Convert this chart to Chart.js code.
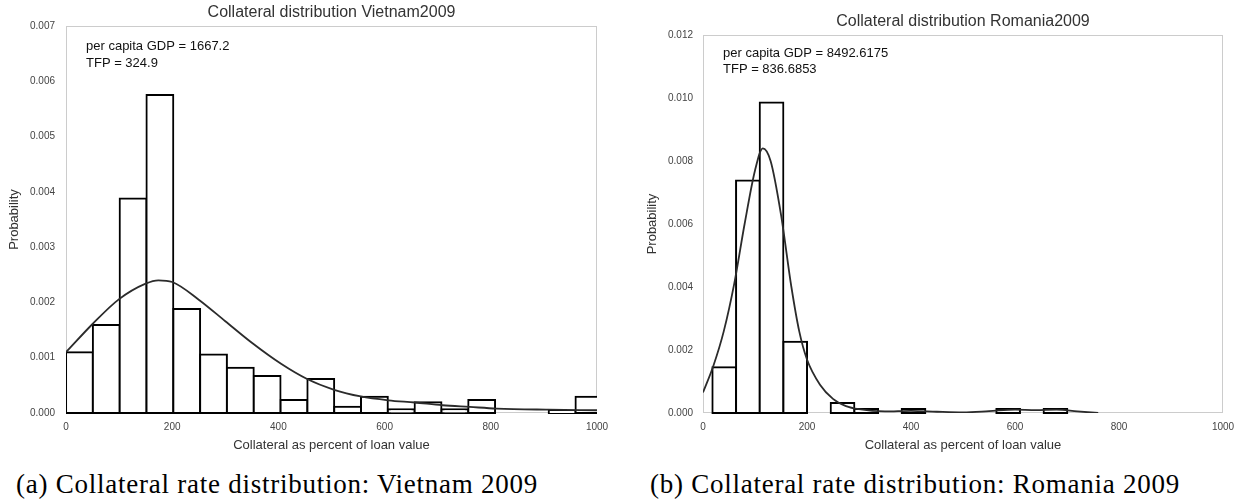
<!DOCTYPE html>
<html>
<head>
<meta charset="utf-8">
<script src="https://cdn.jsdelivr.net/npm/chart.js@4.4.1/dist/chart.umd.min.js"></script>
<style>
    html, body { margin: 0; padding: 0; background: #ffffff; }
    body { width: 1243px; height: 501px; position: relative; overflow: hidden; }
    .panel { position: absolute; top: 0; height: 460px; }
    #vietnamPanel { left: 0; width: 620px; }
    #romaniaPanel { left: 638px; width: 605px; }
    .caption {
        position: absolute;
        top: 469px;
        line-height: 30px;
        font-family: "Liberation Serif", "Times New Roman", serif;
        font-size: 27px;
        letter-spacing: 0.75px;
        color: #000;
        white-space: nowrap;
        transform: translateX(-50%);
    }
</style>
</head>
<body>
<div class="panel" id="vietnamPanel"><canvas id="vietnamChart" width="620" height="460"></canvas></div>
<div class="panel" id="romaniaPanel"><canvas id="romaniaChart" width="605" height="460"></canvas></div>
<div class="caption" style="left: 277px;">(a) Collateral rate distribution: Vietnam 2009</div>
<div class="caption" style="left: 915px;">(b) Collateral rate distribution: Romania 2009</div>

<script>
// histogram bins (bin centres) and bar heights
const vietnam_bin_centers = [25.3, 75.8, 126.3, 176.8, 227.3, 277.8, 328.3, 378.8, 429.3, 479.8,
                             530.3, 580.8, 631.3, 681.8, 732.3, 782.8, 833.3, 883.8, 934.3, 984.8];
const vietnam_bin_heights = [0.00110, 0.00159, 0.00388, 0.00575, 0.00188, 0.00106, 0.00082, 0.00067, 0.000235, 0.000615,
                             0.000115, 0.000295, 0.000067, 0.000193, 0.000067, 0.000235, 0, 0, 0.00004, 0.000295];

// fitted density curve
const vietnam_curve_x = [0, 50, 100, 150, 174, 200, 250, 300, 350, 405, 455, 505, 555, 607, 657, 709, 760, 811, 908, 1000];
const vietnam_curve_y = [0.0011, 0.00161, 0.00206, 0.00234, 0.0024, 0.00237, 0.00205, 0.00166, 0.00127, 0.00089,
                         0.00061, 0.00042, 0.0003, 0.00023, 0.00019, 0.00014, 0.00011, 0.00008, 0.00006, 0.00005];

const romania_bin_centers = [40.8, 86.3, 131.8, 177.3, 222.8, 268.3, 313.8, 359.3, 404.8, 450.3,
                             495.8, 541.3, 586.8, 632.3, 677.8];
const romania_bin_heights = [0.00145, 0.00738, 0.00986, 0.00226, 0, 0.00032, 0.00013, 0, 0.00013, 0,
                             0, 0, 0.00013, 0, 0.00013];

const romania_curve_x = [0, 20, 40, 60, 80, 100, 115, 130, 150, 170, 185, 200, 225, 250, 275, 300, 350,
                         400, 450, 500, 550, 600, 640, 680, 720, 760];
const romania_curve_y = [0.00065, 0.0015, 0.0026, 0.0041, 0.0060, 0.0077, 0.0084, 0.0080, 0.0063, 0.0040,
                         0.0026, 0.0017, 0.0009, 0.00045, 0.00022, 0.00012, 0.00005, 0.00007, 0.00004, 0.00002,
                         0.00006, 0.00011, 0.00009, 0.00011, 0.00005, 0];

const x_ticks = [0, 200, 400, 600, 800, 1000];
const vietnam_notes = ["per capita GDP = 1667.2", "TFP = 324.9"];
const romania_notes = ["per capita GDP = 8492.6175", "TFP = 836.6853"];

Chart.defaults.font.family = "'Liberation Sans', Arial, sans-serif";

// light grey box round the plot area + the two text lines in the top left corner
const frame_plugin = {
    id: "frame",
    beforeDatasetsDraw(chart) {
        const { ctx, chartArea: a } = chart;
        ctx.save();
        ctx.strokeStyle = "#cccccc";
        ctx.lineWidth = 1;
        ctx.strokeRect(a.left + 0.5, a.top + 0.5, a.width - 1, a.height - 1);
        ctx.restore();
    },
    afterDraw(chart, args, opts) {
        const { ctx, chartArea: a } = chart;
        ctx.save();
        ctx.fillStyle = "#111111";
        ctx.font = "13px 'Liberation Sans', Arial, sans-serif";
        ctx.textBaseline = "middle";
        opts.lines.forEach((line, i) => {
            ctx.fillText(line, a.left + opts.dx, a.top + opts.dy + i * 16.5);
        });
        ctx.restore();
    }
};

function create_hist_chart(canvasId, cfg) {
    return new Chart(document.getElementById(canvasId), {
        type: "bar",
        data: {
            datasets: [{
                type: "line",
                data: cfg.curveX.map((x, i) => ({ x: x, y: cfg.curveY[i] })),
                borderColor: "#2b2b2b",
                borderWidth: 1.8,
                pointRadius: 0,
                cubicInterpolationMode: "monotone",
                fill: false,
                order: 0
            }, {
                type: "bar",
                data: cfg.binX.map((x, i) => ({ x: x, y: cfg.binY[i] })),
                backgroundColor: "#ffffff",
                borderColor: "#000000",
                borderWidth: 2,
                borderSkipped: false,
                inflateAmount: 1,
                barPercentage: 1,
                categoryPercentage: 1,
                clip: { left: 0, top: 0, right: 0, bottom: 2 },
                order: 1
            }]
        },
        options: {
            responsive: false,
            animation: false,
            events: [],
            layout: {
                padding: { top: cfg.padTop, left: 0, right: cfg.padRight, bottom: 0 }
            },
            scales: {
                x: {
                    type: "linear",
                    offset: false,
                    min: 0,
                    max: 1000,
                    afterBuildTicks: scale => { scale.ticks = x_ticks.map(v => ({ value: v })); },
                    afterFit: scale => { scale.height = 47; },
                    grid: { display: false, drawTicks: false, offset: false },
                    border: { display: false },
                    ticks: {
                        padding: 8,
                        color: "#444444",
                        font: { size: 10 },
                        callback: v => String(v)
                    },
                    title: {
                        display: true,
                        text: "Collateral as percent of loan value",
                        color: "#333333",
                        font: { size: 13 },
                        padding: { top: 0, bottom: 7 }
                    }
                },
                y: {
                    min: 0,
                    max: cfg.yMax,
                    afterFit: scale => { scale.width = cfg.yWidth; },
                    grid: { display: false, drawTicks: false },
                    border: { display: false },
                    ticks: {
                        stepSize: cfg.yStep,
                        padding: cfg.tickPad,
                        color: "#444444",
                        font: { size: 10 },
                        callback: v => v.toFixed(3)
                    },
                    title: {
                        display: true,
                        text: "Probability",
                        color: "#333333",
                        font: { size: 13 },
                        padding: { top: 7, bottom: 0 }
                    }
                }
            },
            plugins: {
                legend: { display: false },
                tooltip: { enabled: false },
                title: {
                    display: true,
                    text: cfg.title,
                    fullSize: false,
                    color: "#333333",
                    font: { size: 16, weight: "normal" },
                    padding: { top: 3, bottom: 3.8 }
                },
                frame: { lines: cfg.notes, dx: 20, dy: cfg.noteTop }
            }
        },
        plugins: [frame_plugin]
    });
}

create_hist_chart("vietnamChart", {
    title: "Collateral distribution Vietnam2009",
    binX: vietnam_bin_centers,
    binY: vietnam_bin_heights,
    curveX: vietnam_curve_x,
    curveY: vietnam_curve_y,
    yMax: 0.007,
    yStep: 0.001,
    yWidth: 66,
    tickPad: 11,
    padTop: 0,
    padRight: 23,
    notes: vietnam_notes,
    noteTop: 20.5
});

create_hist_chart("romaniaChart", {
    title: "Collateral distribution Romania2009",
    binX: romania_bin_centers,
    binY: romania_bin_heights,
    curveX: romania_curve_x,
    curveY: romania_curve_y,
    yMax: 0.012,
    yStep: 0.002,
    yWidth: 65,
    tickPad: 10,
    padTop: 9,
    padRight: 20,
    notes: romania_notes,
    noteTop: 18
});
</script>
</body>
</html>
